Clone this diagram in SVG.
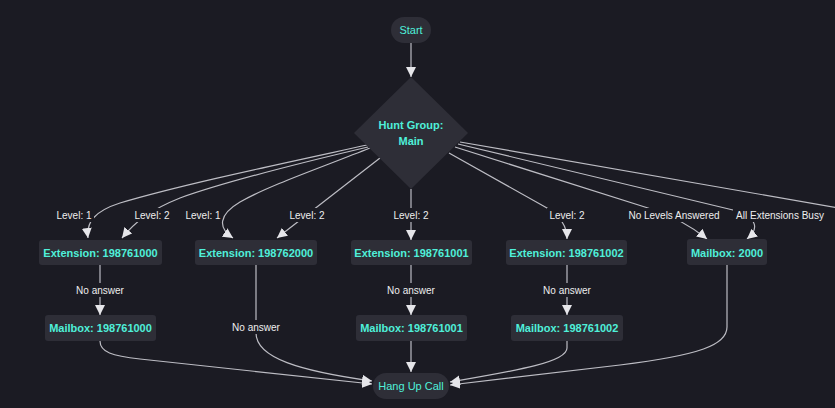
<svg xmlns="http://www.w3.org/2000/svg" width="835" height="408" viewBox="0 0 835 408">
<style>
.bg{fill:#1b1b23}
.node{fill:#2e2e37}
.ntext{font-family:"Liberation Sans",Arial,sans-serif;font-size:11px;font-weight:bold;fill:#4ff0da;text-anchor:middle;dominant-baseline:central}
.ntext.reg{font-weight:normal}
.edge{fill:none;stroke:#bdbdc4;stroke-width:1.2}
.lbg{fill:#1b1b23}
.ltext{font-family:"Liberation Sans",Arial,sans-serif;font-size:10px;fill:#eeeeee;text-anchor:middle;dominant-baseline:central}
</style>
<defs>
<marker id="arr" viewBox="0 0 10 10" refX="10" refY="5" markerWidth="10" markerHeight="10" markerUnits="userSpaceOnUse" orient="auto">
<path d="M0,0 L10,5 L0,10 z" fill="#e6e6ea"/>
</marker>
</defs>
<rect class="bg" x="0" y="0" width="835" height="408"/>

<g id="connectors">
<path class="edge" d="M411,43 L411,77" marker-end="url(#arr)"/>
<path class="edge" d="M367,145 C280,164 180,185 120,203 C95,211 86,222 88,238" marker-end="url(#arr)"/>
<path class="edge" d="M368,147 C300,163 230,180 180,198 C150,210 135,222 122,238" marker-end="url(#arr)"/>
<path class="edge" d="M370,148 C320,168 270,185 240,202 C218,215 218,228 233,238" marker-end="url(#arr)"/>
<path class="edge" d="M380,158 L277,238" marker-end="url(#arr)"/>
<path class="edge" d="M411,189 L411,240" marker-end="url(#arr)"/>
<path class="edge" d="M449,153 L547,208 Q567,220 567,239" marker-end="url(#arr)"/>
<path class="edge" d="M455,147 L648,208 C670,215 690,225 707,239" marker-end="url(#arr)"/>
<path class="edge" d="M458,144 L733,210 C760,218 758,230 747,239" marker-end="url(#arr)"/>
<path class="edge" d="M460,142 L850,210"/>
<path class="edge" d="M100,265 L100,315" marker-end="url(#arr)"/>
<path class="edge" d="M411,265 L411,315" marker-end="url(#arr)"/>
<path class="edge" d="M567,265 L567,315" marker-end="url(#arr)"/>
<path class="edge" d="M256,265 L256,333 C256,358 300,371 372,381" marker-end="url(#arr)"/>
<path class="edge" d="M100,341 C100,352 112,356 140,359 L372,384" marker-end="url(#arr)"/>
<path class="edge" d="M411,341 L411,372" marker-end="url(#arr)"/>
<path class="edge" d="M567,341 L567,348 C567,362 520,370 450,382" marker-end="url(#arr)"/>
<path class="edge" d="M727,265 L727,327 C727,345 700,355 620,365 L450,385" marker-end="url(#arr)"/>
</g>

<g id="edge-labels">
<g><rect class="lbg" x="55" y="208" width="39" height="14"/><text class="ltext" x="74" y="215">Level: 1</text></g>
<g><rect class="lbg" x="133" y="208" width="39" height="14"/><text class="ltext" x="152" y="215">Level: 2</text></g>
<g><rect class="lbg" x="184" y="208" width="38" height="14"/><text class="ltext" x="203" y="215">Level: 1</text></g>
<g><rect class="lbg" x="288" y="208" width="39" height="14"/><text class="ltext" x="307" y="215">Level: 2</text></g>
<g><rect class="lbg" x="391" y="208" width="40" height="14"/><text class="ltext" x="411" y="215">Level: 2</text></g>
<g><rect class="lbg" x="547" y="208" width="40" height="14"/><text class="ltext" x="567" y="215">Level: 2</text></g>
<g><rect class="lbg" x="626" y="208" width="96" height="14"/><text class="ltext" x="674" y="215">No Levels Answered</text></g>
<g><rect class="lbg" x="733" y="208" width="95" height="14"/><text class="ltext" x="780" y="215">All Extensions Busy</text></g>
<g><rect class="lbg" x="75" y="283" width="50" height="14"/><text class="ltext" x="100" y="290">No answer</text></g>
<g><rect class="lbg" x="386" y="283" width="50" height="14"/><text class="ltext" x="411" y="290">No answer</text></g>
<g><rect class="lbg" x="542" y="283" width="50" height="14"/><text class="ltext" x="567" y="290">No answer</text></g>
<g><rect class="lbg" x="231" y="320" width="50" height="14"/><text class="ltext" x="256" y="327">No answer</text></g>
</g>

<g id="start"><rect class="node" x="391" y="17" width="40" height="26" rx="13"/><text class="ntext reg" x="411" y="30">Start</text></g>
<g id="hunt-group"><polygon class="node" points="411,77 468,133 411,189 354,133"/><text class="ntext" x="411" y="125">Hunt Group:</text><text class="ntext" x="411" y="141">Main</text></g>
<g id="ext-198761000"><rect class="node" x="39" y="240" width="123" height="25" rx="3"/><text class="ntext" x="100.5" y="252.5">Extension: 198761000</text></g>
<g id="ext-198762000"><rect class="node" x="195" y="240" width="122" height="25" rx="3"/><text class="ntext" x="256" y="252.5">Extension: 198762000</text></g>
<g id="ext-198761001"><rect class="node" x="351" y="240" width="121" height="25" rx="3"/><text class="ntext" x="411.5" y="252.5">Extension: 198761001</text></g>
<g id="ext-198761002"><rect class="node" x="506" y="240" width="121" height="25" rx="3"/><text class="ntext" x="566.5" y="252.5">Extension: 198761002</text></g>
<g id="mailbox-2000"><rect class="node" x="687" y="239" width="80" height="26" rx="3"/><text class="ntext" x="727" y="252.5">Mailbox: 2000</text></g>
<g id="mailbox-198761000"><rect class="node" x="45" y="315" width="111" height="26" rx="3"/><text class="ntext" x="100.5" y="328">Mailbox: 198761000</text></g>
<g id="mailbox-198761001"><rect class="node" x="356" y="315" width="111" height="26" rx="3"/><text class="ntext" x="411.5" y="328">Mailbox: 198761001</text></g>
<g id="mailbox-198761002"><rect class="node" x="511" y="315" width="112" height="26" rx="3"/><text class="ntext" x="567" y="328">Mailbox: 198761002</text></g>
<g id="hang-up"><rect class="node" x="373" y="373" width="76" height="26" rx="13"/><text class="ntext reg" x="411" y="386">Hang Up Call</text></g>
</svg>
